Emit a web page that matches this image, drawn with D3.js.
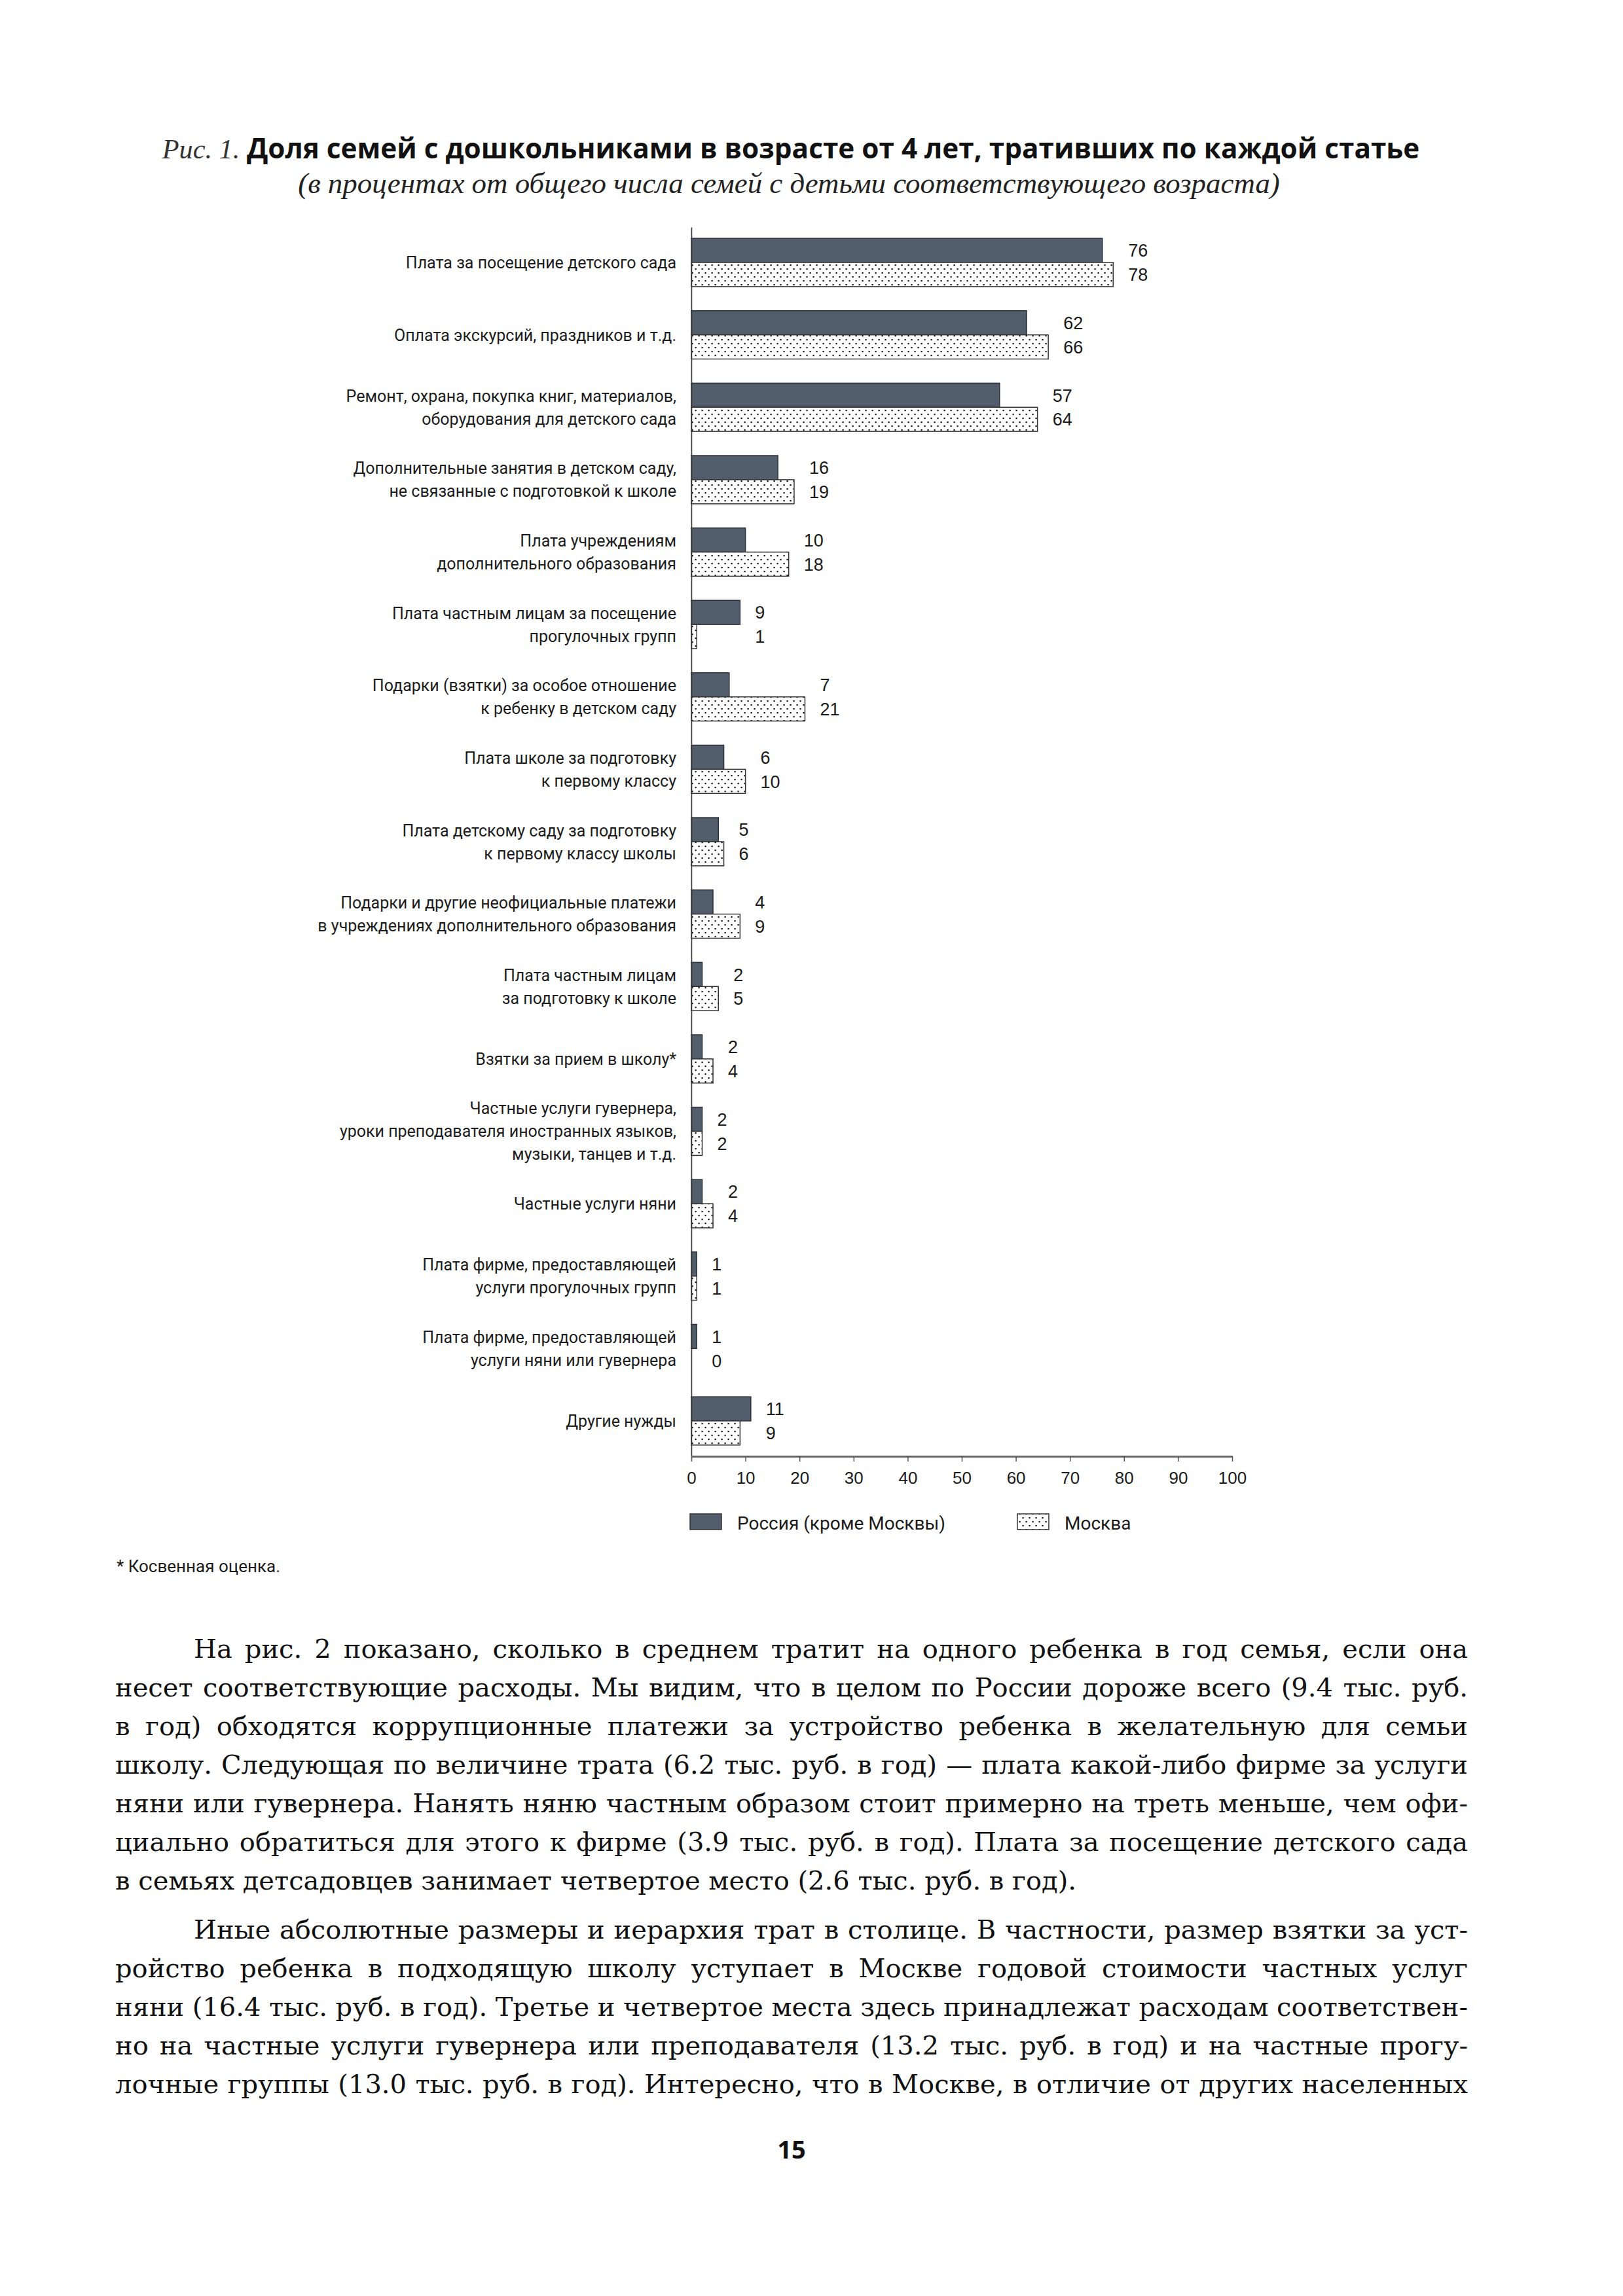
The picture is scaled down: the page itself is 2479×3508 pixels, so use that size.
<!DOCTYPE html>
<html>
<head>
<meta charset="utf-8">
<script src="https://cdn.jsdelivr.net/npm/d3@7"></script>
<style>html,body{margin:0;padding:0;background:#fff}</style>
</head>
<body>
<div id="page"></div>
<script>
// Рис. 1 — доля семей с дошкольниками, тративших по каждой статье (%)
var categories = [
    "Плата за посещение детского сада",
    "Оплата экскурсий, праздников и т.д.",
    "Ремонт, охрана, покупка книг, материалов,\nоборудования для детского сада",
    "Дополнительные занятия в детском саду,\nне связанные с подготовкой к школе",
    "Плата учреждениям\nдополнительного образования",
    "Плата частным лицам за посещение\nпрогулочных групп",
    "Подарки (взятки) за особое отношение\nк ребенку в детском саду",
    "Плата школе за подготовку\nк первому классу",
    "Плата детскому саду за подготовку\nк первому классу школы",
    "Подарки и другие неофициальные платежи\nв учреждениях дополнительного образования",
    "Плата частным лицам\nза подготовку к школе",
    "Взятки за прием в школу*",
    "Частные услуги гувернера,\nуроки преподавателя иностранных языков,\nмузыки, танцев и т.д.",
    "Частные услуги няни",
    "Плата фирме, предоставляющей\nуслуги прогулочных групп",
    "Плата фирме, предоставляющей\nуслуги няни или гувернера",
    "Другие нужды"
];
var russia = [76, 62, 57, 16, 10, 9, 7, 6, 5, 4, 2, 2, 2, 2, 1, 1, 11];
var moscow = [78, 66, 64, 19, 18, 1, 21, 10, 6, 9, 5, 4, 2, 4, 1, 0, 9];
var xTicks = [0, 10, 20, 30, 40, 50, 60, 70, 80, 90, 100];
var seriesNames = ["Россия (кроме Москвы)", "Москва"];

var paragraph1 = [
    "На рис. 2 показано, сколько в среднем тратит на одного ребенка в год семья, если она",
    "несет соответствующие расходы. Мы видим, что в целом по России дороже всего (9.4 тыс. руб.",
    "в год) обходятся коррупционные платежи за устройство ребенка в желательную для семьи",
    "школу. Следующая по величине трата (6.2 тыс. руб. в год) — плата какой-либо фирме за услуги",
    "няни или гувернера. Нанять няню частным образом стоит примерно на треть меньше, чем офи-",
    "циально обратиться для этого к фирме (3.9 тыс. руб. в год). Плата за посещение детского сада",
    "в семьях детсадовцев занимает четвертое место (2.6 тыс. руб. в год)."
];
var paragraph2 = [
    "Иные абсолютные размеры и иерархия трат в столице. В частности, размер взятки за уст-",
    "ройство ребенка в подходящую школу уступает в Москве годовой стоимости частных услуг",
    "няни (16.4 тыс. руб. в год). Третье и четвертое места здесь принадлежат расходам соответствен-",
    "но на частные услуги гувернера или преподавателя (13.2 тыс. руб. в год) и на частные прогу-",
    "лочные группы (13.0 тыс. руб. в год). Интересно, что в Москве, в отличие от других населенных"
];

var W = 2479, H = 3508;
var DARK = "#525e6b";
var SANS = "Roboto, 'Open Sans', sans-serif";
var SERIF = "'DejaVu Serif', 'Liberation Serif', serif";

var svg = d3.select("#page").append("svg").attr("width", W).attr("height", H)
    .style("display", "block").style("background", "#fff");

// scale a text element so its length equals the target width
function fitWidth(sel, target) {
    var w = sel.node().getComputedTextLength();
    var fs = parseFloat(sel.attr("font-size"));
    sel.attr("font-size", fs * target / w);
}

// --- title ---
var title = svg.append("text").attr("x", 1208).attr("y", 242).attr("text-anchor", "middle")
    .attr("font-size", 40).attr("fill", "#111");
title.append("tspan").attr("font-family", "'Liberation Serif', serif").attr("font-style", "italic")
    .attr("fill", "#333").text("Рис. 1. ");
title.append("tspan").attr("font-family", "'Open Sans', sans-serif").attr("font-weight", "bold")
    .text("Доля семей с дошкольниками в возрасте от 4 лет, тративших по каждой статье");
fitWidth(title, 1921);

var sub = svg.append("text").attr("x", 1205).attr("y", 295).attr("text-anchor", "middle")
    .attr("font-size", 38).attr("font-family", "'Liberation Serif', serif").attr("font-style", "italic")
    .attr("fill", "#222").text("(в процентах от общего числа семей с детьми соответствующего возраста)");
fitWidth(sub, 1500);

// --- chart ---
var defs = svg.append("defs");
var pat = defs.append("pattern").attr("id", "dots").attr("patternUnits", "userSpaceOnUse")
    .attr("width", 10).attr("height", 12);
pat.append("rect").attr("width", 10).attr("height", 12).attr("fill", "#fff");
pat.append("rect").attr("x", 1.5).attr("y", 2).attr("width", 2.2).attr("height", 2.2).attr("fill", "#111");
pat.append("rect").attr("x", 6.5).attr("y", 8).attr("width", 2.2).attr("height", 2.2).attr("fill", "#111");

var x = d3.scaleLinear().domain([0, 100]).range([1056, 1882]);
var y = d3.scaleBand().domain(d3.range(categories.length)).range([347, 2225])
    .paddingInner(1 / 3).paddingOuter(0.155);
var bh = y.bandwidth() / 2;

var g = svg.append("g");

g.selectAll("rect.ru").data(russia).enter().append("rect").attr("class", "ru")
    .attr("x", x(0)).attr("y", function (d, i) { return y(i); })
    .attr("width", function (d) { return x(d) - x(0); }).attr("height", bh)
    .attr("fill", DARK).attr("stroke", "#2b3138").attr("stroke-width", 1.5);

g.selectAll("rect.mo").data(moscow).enter().append("rect").attr("class", "mo")
    .attr("x", x(0)).attr("y", function (d, i) { return y(i) + bh; })
    .attr("width", function (d) { return x(d) - x(0); }).attr("height", bh)
    .attr("fill", "url(#dots)").attr("stroke", function (d) { return d > 0 ? "#333" : "none"; })
    .attr("stroke-width", 1.5);

// value labels, left-aligned past the longer bar of the pair
function labelX(i) { return x(Math.max(russia[i], moscow[i])) + 23; }
g.selectAll("text.vru").data(russia).enter().append("text").attr("class", "vru")
    .attr("x", function (d, i) { return labelX(i); })
    .attr("y", function (d, i) { return y(i) + bh / 2; })
    .attr("dy", "0.36em").attr("font-family", "'Liberation Sans', Arial, sans-serif")
    .attr("font-size", 27).attr("fill", "#1a1a1a").text(function (d) { return d; });
g.selectAll("text.vmo").data(moscow).enter().append("text").attr("class", "vmo")
    .attr("x", function (d, i) { return labelX(i); })
    .attr("y", function (d, i) { return y(i) + bh * 1.5; })
    .attr("dy", "0.36em").attr("font-family", "'Liberation Sans', Arial, sans-serif")
    .attr("font-size", 27).attr("fill", "#1a1a1a").text(function (d) { return d; });

// category labels (multi-line, right aligned)
var cat = g.selectAll("text.cat").data(categories).enter().append("text").attr("class", "cat")
    .attr("text-anchor", "end").attr("font-family", SANS).attr("font-size", 25).attr("fill", "#1c1c1c");
cat.each(function (d, i) {
    var lines = d.split("\n");
    var cy = y(i) + y.bandwidth() / 2;
    var lh = 35;
    var t = d3.select(this);
    lines.forEach(function (ln, k) {
        t.append("tspan").attr("x", 1033)
            .attr("y", cy + (k - (lines.length - 1) / 2) * lh).attr("dy", "0.36em").text(ln);
    });
});

// vertical axis line
svg.append("g").attr("transform", "translate(" + x(0) + ",0)")
    .call(d3.axisLeft(y).tickSize(0).tickSizeOuter(0).tickFormat(""))
    .call(function (a) { a.select(".domain").attr("stroke", "#333").attr("stroke-width", 1.5); });

// horizontal axis
svg.append("g").attr("transform", "translate(0,2225)")
    .call(d3.axisBottom(x).tickValues(xTicks).tickSize(8).tickSizeOuter(0).tickPadding(16))
    .call(function (a) {
        a.select(".domain").attr("stroke", "#666").attr("stroke-width", 3);
        a.selectAll(".tick line").attr("stroke", "#555").attr("stroke-width", 1.5);
        a.selectAll(".tick text").attr("font-family", "'Liberation Sans', Arial, sans-serif")
            .attr("font-size", 26).attr("fill", "#1a1a1a");
    });

// legend
var legend = svg.append("g");
var legX = [1054, 1554];
seriesNames.forEach(function (name, i) {
    legend.append("rect").attr("x", legX[i]).attr("y", 2313).attr("width", 48).attr("height", 24)
        .attr("fill", i === 0 ? DARK : "url(#dots)").attr("stroke", "#333").attr("stroke-width", 1.5);
    legend.append("text").attr("x", legX[i] + 72).attr("y", 2337)
        .attr("font-family", SANS).attr("font-size", 28).attr("fill", "#1a1a1a").text(name);
});

// footnote
svg.append("text").attr("x", 178).attr("y", 2402).attr("font-family", SANS).attr("font-size", 26)
    .attr("fill", "#1a1a1a").text("* Косвенная оценка.");

// --- body text, justified line by line via word spacing ---
var left = 176, right = 2242, indent = 120, lineStep = 59, bodySize = 40;
function paragraph(lines, baseline, lastJustified) {
    lines.forEach(function (ln, k) {
        var x0 = k === 0 ? left + indent : left;
        var t = svg.append("text").attr("x", x0).attr("y", baseline + k * lineStep)
            .attr("font-family", SERIF).attr("font-size", bodySize).attr("fill", "#111").text(ln);
        if (k < lines.length - 1 || lastJustified) {
            var natural = t.node().getComputedTextLength();
            var spaces = (ln.match(/ /g) || []).length;
            if (spaces > 0) {
                t.style("word-spacing", ((right - x0 - natural) / spaces) + "px");
            }
            var w2 = t.node().getComputedTextLength();
            if (Math.abs(w2 - (right - x0)) > 2) {
                t.style("word-spacing", null)
                    .attr("textLength", right - x0).attr("lengthAdjust", "spacing");
            }
        }
    });
}
paragraph(paragraph1, 2533, false);
paragraph(paragraph2, 2962, true);

// page number
svg.append("text").attr("x", 1209).attr("y", 3298).attr("text-anchor", "middle")
    .attr("font-family", "'Open Sans', sans-serif").attr("font-weight", "bold").attr("font-size", 38)
    .attr("fill", "#111").text("15");
</script>
</body>
</html>
